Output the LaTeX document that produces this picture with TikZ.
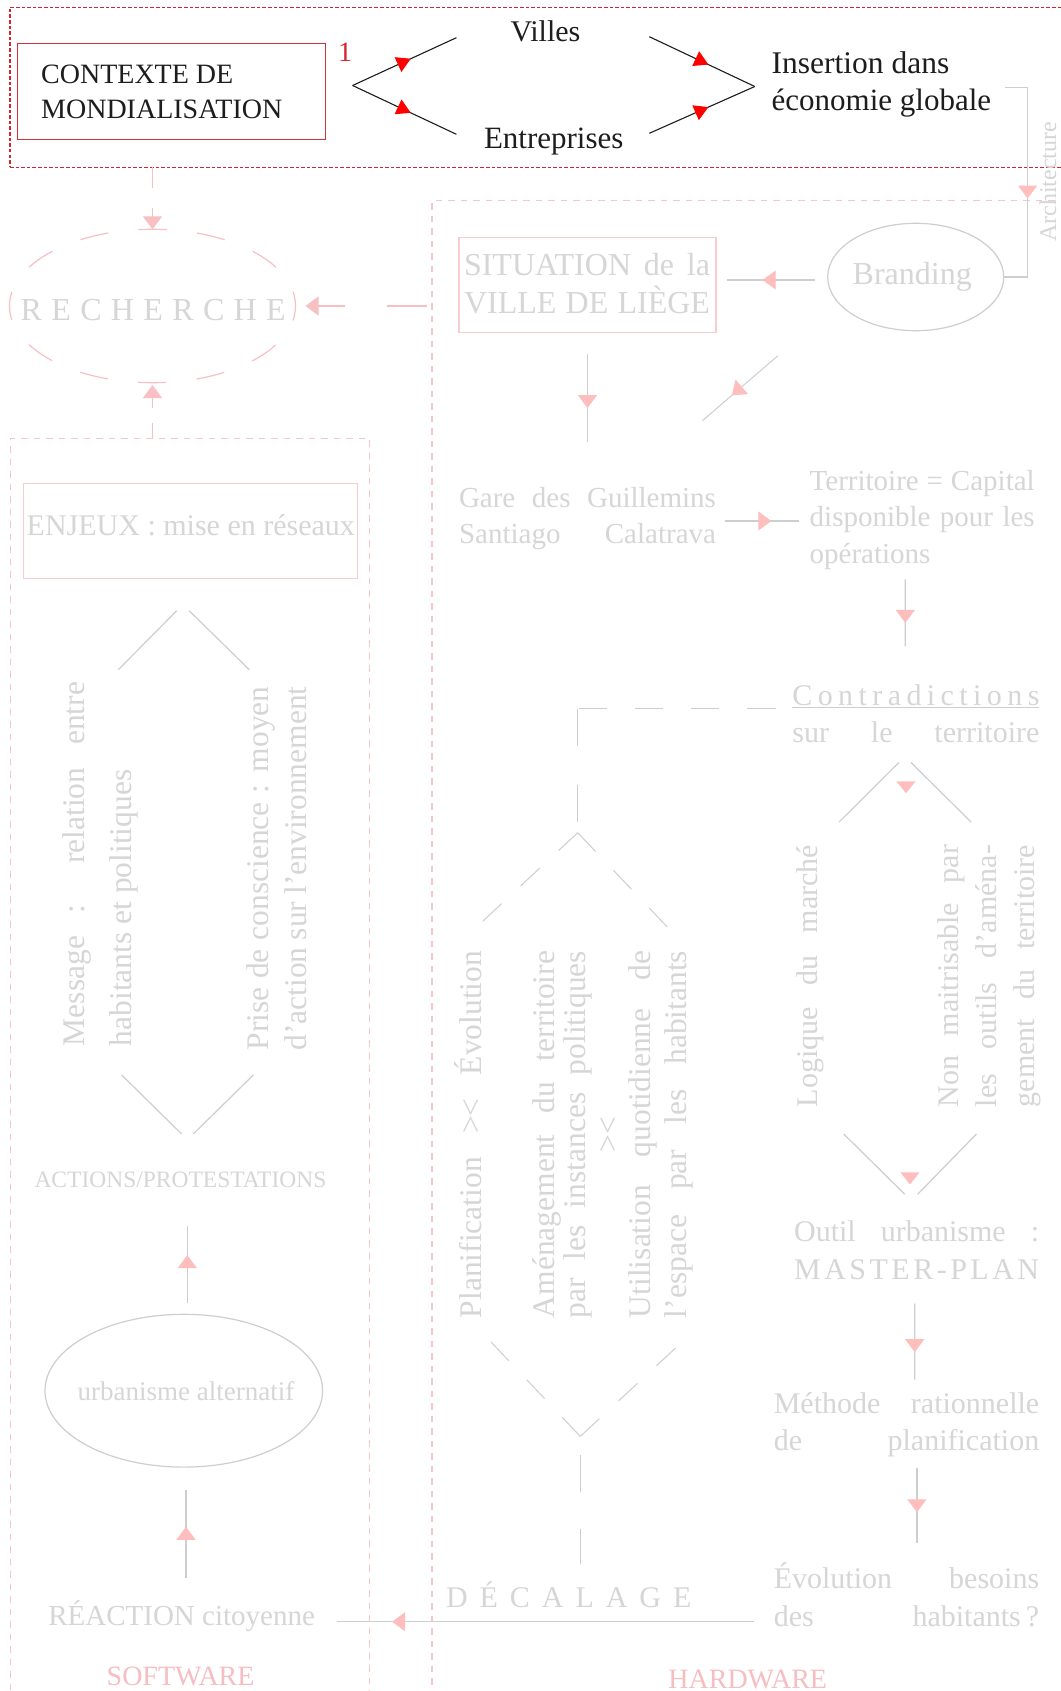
\documentclass[tikz,border=0pt]{standalone}
\usepackage{fontspec}
\setmainfont{Liberation Serif}
\usetikzlibrary{arrows.meta,calc,decorations.markings,shapes.geometric}

\definecolor{ink}{RGB}{30,28,30}
\definecolor{framered}{RGB}{212,36,46}
\definecolor{boxred}{RGB}{210,50,55}
\definecolor{tipred}{RGB}{255,0,0}
\definecolor{softgray}{RGB}{214,214,214}
\definecolor{linegray}{RGB}{206,206,206}
\definecolor{framepink}{RGB}{246,198,200}
\definecolor{boxpink}{RGB}{249,204,206}
\definecolor{ellpink}{RGB}{248,192,194}
\definecolor{tippink}{RGB}{255,190,190}
\definecolor{labelpink}{RGB}{246,190,192}

\newcommand\setfs[1]{\fontsize{#1}{#1}\selectfont}
\newcommand\jbox[2]{\makebox[#1][s]{#2}}

\tikzset{
  lbl/.style={inner sep=0, outer sep=0, anchor=base west, text=softgray},
  vlbl/.style={lbl, rotate=90},
  pinkframe/.style={draw=framepink, line width=1.2pt, dash pattern=on 6.5pt off 6pt,
    inner sep=0, outer sep=0, anchor=north west},
  plainbox/.style={inner sep=0, outer sep=0, anchor=north west},
  oval/.style={ellipse, inner sep=0, outer sep=0},
  gline/.style={draw=linegray, line width=1.2pt},
  bline/.style={draw=ink, line width=1.1pt},
  pline/.style={draw=ellpink, line width=1.2pt},
  ptip/.style={-{Triangle[length=13pt,width=19pt]}},
  marr/.style={postaction={decorate}, decoration={markings,
    mark=at position #1 with {\arrow[tippink]{Triangle[length=13pt,width=19pt]}}}},
  redarr/.style={postaction={decorate}, decoration={markings,
    mark=at position #1 with {\arrow[tipred]{Triangle[length=14pt,width=16pt]}}}},
}

\begin{document}
\begin{tikzpicture}[x=1pt,y=-1pt]
\useasboundingbox (0,0) rectangle (1060,1691);
\fill[white] (0,0) rectangle (1060,1691);

% ---------- frames ----------
\node[draw=framered, line width=1.1pt, dash pattern=on 3.6pt off 2pt, plainbox,
      minimum width=1070pt, minimum height=160pt] (frame1) at (10,7.3) {};
\node[pinkframe, minimum width=700pt, minimum height=1560pt] (hw) at (432,200.7) {};
\node[pinkframe, minimum width=358.6pt, minimum height=1300pt] (sw) at (10.7,438.3) {};

% ---------- globalisation context ----------
\node[draw=boxred, line width=1.3pt, plainbox, minimum width=308pt, minimum height=96pt] (ctxbox) at (17.6,43.3) {};
\node[lbl, text=ink, font={\setfs{28}}] (ctx1) at (41.2,83.3) {CONTEXTE DE};
\node[lbl, text=ink, font={\setfs{28}}] (ctx2) at (41.2,119) {MONDIALISATION};
\node[lbl, text=framered, font={\setfs{28}}] (num) at (338,61.7) {1};

\node[lbl, text=ink, font={\setfs{30}}] (villes) at (510.5,41.7) {Villes};
\node[lbl, text=ink, font={\setfs{31}}] (entr) at (484,149) {Entreprises};
\node[lbl, text=ink, font={\setfs{31.5}}] (ins1) at (771.7,74) {Insertion dans};
\node[lbl, text=ink, font={\setfs{31}}] (ins2) at (771.7,110.7) {économie globale};

\coordinate (splitL) at (352.6,85.5);
\coordinate (villesIn) at (456.4,37.7);
\coordinate (entrIn) at (456.4,134.3);
\coordinate (villesOut) at (649.3,36.7);
\coordinate (entrOut) at (649.3,133.3);
\coordinate (joinR) at (754.8,86.5);
\draw[bline, redarr=0.56] (splitL) -- (villesIn);
\draw[bline, redarr=0.56] (splitL) -- (entrIn);
\draw[bline, redarr=0.56] (villesOut) -- (joinR);
\draw[bline, redarr=0.56] (entrOut) -- (joinR);

% ---------- RECHERCHE ----------
\node[oval, draw=ellpink, line width=1.2pt, dash pattern=on 28.4pt off 30.4pt, dash phase=14.2pt,
      minimum width=286pt, minimum height=153.4pt] (rech) at (152.5,306) {};
\node[lbl, font={\setfs{32}}] (rechtxt) at (20.7,320)
  {\jbox{265pt}{R\hfil E\hfil C\hfil H\hfil E\hfil R\hfil C\hfil H\hfil E}};

\draw[pline, ptip, dash pattern=on 20.7pt off 20pt] (rech.north |- frame1.south) -- (rech.north);
\draw[pline, ptip, dash pattern=on 40pt off 42pt] ($(hw.west |- rech.east)+(-5,0)$) -- ($(rech.east)+(10,0)$);
\draw[pline, ptip, dash pattern=on 15pt off 15.5pt] (rech.south |- sw.north) -- ($(rech.south)+(0,2.3)$);

% ---------- HARDWARE side ----------
\node[oval, draw=linegray, line width=1.2pt, minimum width=176pt, minimum height=107.4pt] (brand) at (915.7,277) {};
\node[lbl, font={\setfs{32}}] (brandtxt) at (852.7,284.3) {Branding};
\coordinate (archTop) at (1005,87.3);
\draw[gline, marr=133.8pt] (archTop) -- ++(22.6,0) |- (brand.east);
\node[vlbl, font={\setfs{24}}] (arch) at (1056,241.7) {Architecture};

\node[draw=boxpink, line width=1.2pt, plainbox, minimum width=257.1pt, minimum height=95.4pt] (sit) at (458.9,237.3) {};
\node[lbl, font={\setfs{32}}] (sit1) at (464,275) {\jbox{246pt}{SITUATION de la}};
\node[lbl, font={\setfs{32}}] (sit2) at (464,313.3) {\jbox{246pt}{VILLE DE LIÈGE}};

\draw[gline, marr=0.594] ($(brand.west)+(-13.2,3)$) -- ($(sit.east)+(11.3,-5)$);

\node[lbl, font={\setfs{29}}] (gare1) at (459,507.3) {\jbox{257pt}{Gare des Guillemins}};
\node[lbl, font={\setfs{29}}] (gare2) at (459,543.3) {\jbox{257pt}{Santiago Calatrava}};
\draw[gline, marr=0.615] ($(sit.south)+(0,21.3)$) -- ($(gare1.north -| sit.south)+(0,-45.2)$);

\coordinate (diagA) at (777.9,355.7);
\coordinate (diagB) at (702.4,420.7);
\draw[gline, line width=1pt, marr=0.61] (diagA) -- (diagB);

\node[lbl, font={\setfs{29}}] (terr1) at (809.7,490) {\jbox{225pt}{Territoire = Capital}};
\node[lbl, font={\setfs{29}}] (terr2) at (809.7,526.7) {\jbox{225pt}{disponible pour les}};
\node[lbl, font={\setfs{29}}] (terr3) at (809.7,563.3) {opérations};
\draw[gline, marr=0.63] ($(gare2.base east)+(8.5,-22.3)$) -- ($(terr2.base west)+(-10.9,-5.7)$);

\node[lbl, font={\setfs{30}}] (contra1) at (792.4,705.4)
  {\jbox{247pt}{C\hfil o\hfil n\hfil t\hfil r\hfil a\hfil d\hfil i\hfil c\hfil t\hfil i\hfil o\hfil n\hfil s}};
\draw[gline, line width=1.1pt] ($(contra1.base west)+(0,2.3)$) -- ($(contra1.base east)+(0,2.3)$);
\node[lbl, font={\setfs{30}}] (contra2) at (792.4,742.5) {\jbox{247pt}{sur le territoire}};
\draw[gline, marr=0.65] ($(terr3.base west)+(95.6,16)$) -- ($(contra1.base west)+(112.9,-59)$);

% contradictions branches
\draw[gline] (898.9,762.5) -- (839,822.1);
\draw[gline] (910.9,762.5) -- (971.2,822.1);
\fill[tippink] (896.5,781.4) -- (915.5,781.4) -- (906,793.2) -- cycle;
\node[vlbl, font={\setfs{30}}] (logique) at (817.7,1107) {\jbox{262pt}{Logique du marché}};
\node[vlbl, font={\setfs{30}}] (non1) at (958.3,1107) {\jbox{262pt}{Non maitrisable par}};
\node[vlbl, font={\setfs{30}}] (non2) at (996.5,1107) {\jbox{262pt}{les outils d'aména-}};
\node[vlbl, font={\setfs{30}}] (non3) at (1034.7,1107) {\jbox{262pt}{gement du territoire}};
\draw[gline] (843.8,1134) -- (904.7,1194.2);
\draw[gline] (976.4,1134) -- (917.7,1194.2);
\fill[tippink] (900.5,1172.4) -- (919.5,1172.4) -- (910,1184.5) -- cycle;

\node[lbl, font={\setfs{30}}] (outil1) at (794.1,1241.4) {\jbox{245pt}{Outil urbanisme :}};
\node[lbl, font={\setfs{30}}] (outil2) at (794.1,1279.4)
  {\jbox{245pt}{M\hfil A\hfil S\hfil T\hfil E\hfil R\hfil -\hfil P\hfil L\hfil A\hfil N}};
\node[lbl, font={\setfs{30}}] (meth1) at (773.8,1413) {\jbox{265.4pt}{Méthode rationnelle}};
\node[lbl, font={\setfs{30}}] (meth2) at (773.8,1450.2) {\jbox{265.4pt}{de planification}};
\node[lbl, font={\setfs{30}}] (evo1) at (773.8,1588.2) {\jbox{265.4pt}{Évolution besoins}};
\node[lbl, font={\setfs{30}}] (evo2) at (773.8,1626.2) {\jbox{265.4pt}{des habitants\,?}};
\draw[gline, marr=0.64] ($(outil2.base west)+(120.6,24.2)$) -- ($(meth1.base west)+(140.9,-33.5)$);
\draw[gline, marr=0.59] ($(meth2.base west)+(143.1,17.3)$) -- ($(evo1.base west)+(143.1,-44.8)$);

% planning versus use
\coordinate (ptop) at (577.7,832.7);
\coordinate (ptopL) at (481.7,922.2);
\coordinate (ptopR) at (667.7,927.4);
\coordinate (pbot) at (580.3,1436.4);
\coordinate (pbotL) at (490.6,1341.5);
\coordinate (pbotR) at (676.2,1347.4);
\coordinate (elbow) at (577.7,708.5);
\draw[gline, dash pattern=on 28.2pt off 28pt] ($(contra1.base west)+(-16.9,3.1)$) -- (elbow);
\draw[gline, dash pattern=on 37.4pt off 38.6pt] (elbow) -- ($(ptop)+(0,-10.7)$);
\draw[gline, line width=1pt, dash pattern=on 26pt off 26pt] (ptop) -- (ptopL);
\draw[gline, line width=1pt, dash pattern=on 26pt off 26pt] (ptop) -- (ptopR);
\draw[gline, line width=1pt, dash pattern=on 26pt off 26pt] (pbot) -- (pbotL);
\draw[gline, line width=1pt, dash pattern=on 26pt off 26pt] (pbot) -- (pbotR);

\node[vlbl, font={\setfs{31.5}}] (plan) at (481.7,1318) {\jbox{367pt}{Planification >< Évolution}};
\node[vlbl, font={\setfs{31.5}}] (am1) at (554,1318) {\jbox{367pt}{Aménagement du territoire}};
\node[vlbl, font={\setfs{31.5}}] (am2) at (585.5,1318) {\jbox{367pt}{par les instances politiques}};
\node[vlbl, anchor=base, font={\setfs{31.5}}] (am3) at (618,1134.5) {><};
\node[vlbl, font={\setfs{31.5}}] (am4) at (650.5,1318) {\jbox{367pt}{Utilisation quotidienne de}};
\node[vlbl, font={\setfs{31.5}}] (am5) at (686.5,1318) {\jbox{367pt}{l'espace par les habitants}};

\node[lbl, font={\setfs{30}}] (decal) at (446,1607.2)
  {\jbox{245.4pt}{D\hfil É\hfil C\hfil A\hfil L\hfil A\hfil G\hfil E}};
\draw[gline, dash pattern=on 36.2pt off 37pt] ($(pbot)+(0,19)$) -- ($(pbot |- decal.base)+(0,-43)$);

\node[lbl, text=labelpink, font={\setfs{28}}] (hard) at (668.4,1688) {HARDWARE};

% ---------- SOFTWARE side ----------
\node[draw=boxpink, line width=1.2pt, plainbox, minimum width=334.4pt, minimum height=94.6pt] (enjbox) at (23.3,483.6) {};
\node[lbl, font={\setfs{30}}] (enj) at (26.7,535) {\jbox{328.3pt}{ENJEUX : mise en réseaux}};

\draw[gline] (176.7,610.8) -- (118.3,669.7);
\draw[gline] (189.3,610.8) -- (249.3,669.7);
\node[vlbl, font={\setfs{31.5}}] (msg1) at (84,1046) {\jbox{364pt}{Message : relation entre}};
\node[vlbl, font={\setfs{31.5}}] (msg2) at (131.5,1046) {habitants et politiques};
\node[vlbl, font={\setfs{31.5}}] (prise1) at (268,1050.5) {\jbox{364pt}{Prise de conscience : moyen}};
\node[vlbl, font={\setfs{31.5}}] (prise2) at (306,1050.5) {\jbox{364pt}{d'action sur l'environnement}};
\draw[gline] (121.7,1075) -- (181.7,1134);
\draw[gline] (253.3,1075) -- (193.3,1134);

\node[lbl, font={\setfs{23.5}}] (actions) at (34.5,1187.2) {ACTIONS/PROTESTATIONS};
\node[oval, draw=linegray, line width=1.2pt, minimum width=277.6pt, minimum height=152.8pt] (urb) at (183.8,1390.7) {};
\node[lbl, font={\setfs{27}}] (urbtxt) at (77.7,1400) {urbanisme alternatif};
\node[lbl, font={\setfs{29}}] (reac) at (48.3,1625.5) {RÉACTION citoyenne};

\draw[gline, marr=0.62] ($(urb.north)+(3.5,-11.5)$) -- ($(actions.base west)+(152.8,38.7)$);
\draw[gline, marr=0.58] ($(reac.base west)+(137.7,-47.6)$) -- ($(urb.south)+(2.2,22.6)$);
\draw[gline, marr=0.867] ($(evo2.base west)+(-20,-4.5)$) -- ($(reac.base west)+(288.4,-3.8)$);

\node[lbl, text=labelpink, font={\setfs{28}}] (soft) at (106.7,1685) {SOFTWARE};
\end{tikzpicture}
\end{document}
